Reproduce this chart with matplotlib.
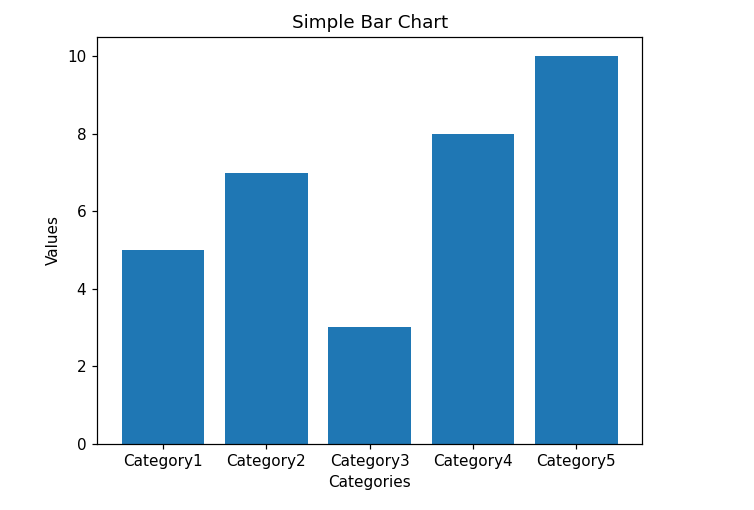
import matplotlib
matplotlib.use('Agg')
import matplotlib.pyplot as plt

# chart data
categories = ['Category1', 'Category2', 'Category3', 'Category4', 'Category5']
values = [5, 7, 3, 8, 10]

W, H, DPI = 754, 510, 110
fig = plt.figure(figsize=(W / DPI, H / DPI), dpi=DPI)
# axes box (pixels)
left, right, top, bottom = 97, 642.5, 37, 443.5
ax = fig.add_axes([left / W, 1 - bottom / H, (right - left) / W, (bottom - top) / H])

ax.bar(categories, values)
ax.set_xlabel('Categories')
ax.set_ylabel('Values')
ax.set_title('Simple Bar Chart')

fig.savefig('out.png', dpi=DPI)
